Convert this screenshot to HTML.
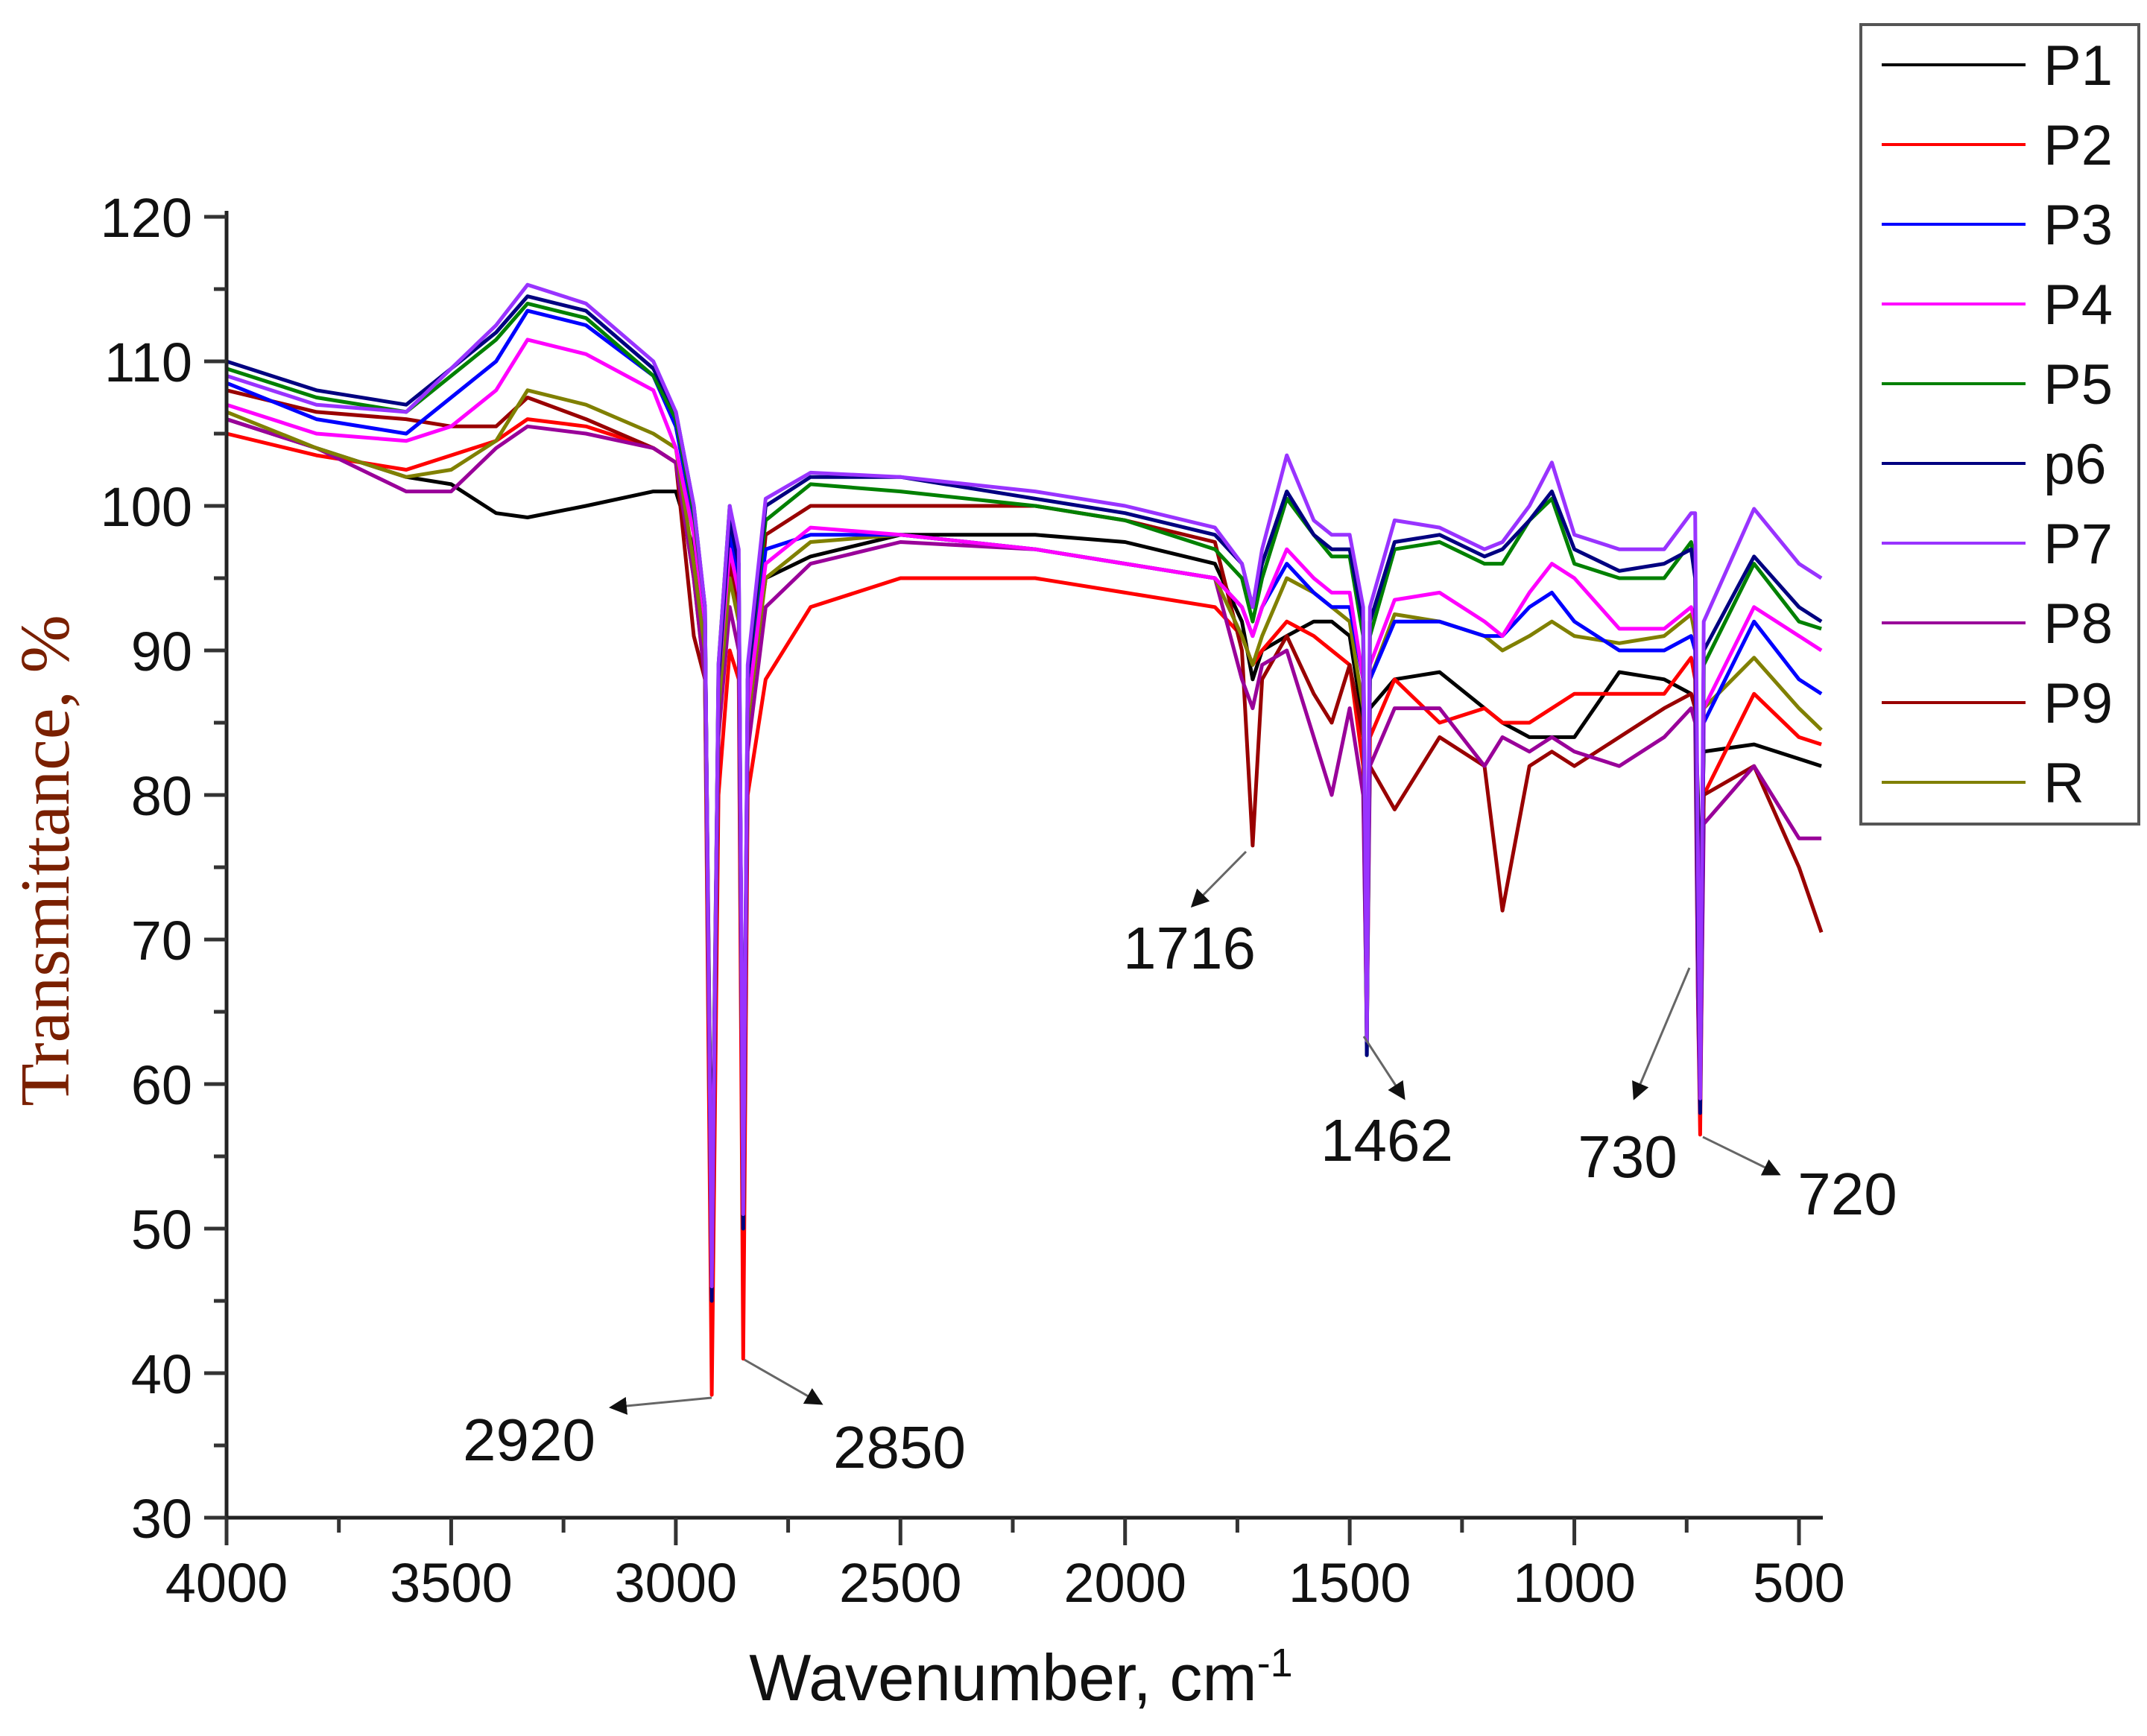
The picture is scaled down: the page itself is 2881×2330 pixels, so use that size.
<!DOCTYPE html>
<html><head><meta charset="utf-8">
<style>
html,body{margin:0;padding:0;background:#fff;}
svg{display:block;}
text{font-family:"Liberation Sans",sans-serif;fill:#111;}
</style></head>
<body>
<svg id="chart" width="2881" height="2330" viewBox="0 0 2881 2330" xmlns="http://www.w3.org/2000/svg">
<g id="series"></g>
<g id="axes"></g>
<text transform="translate(92,1155) rotate(-90)" text-anchor="middle" style="font-family:'Liberation Serif',serif;font-size:94px;fill:#7a2000">Transmittance, %</text>
<text x="1370" y="2282" text-anchor="middle" style="font-size:88px">Wavenumber, cm<tspan dy="-32" font-size="54">-1</tspan></text>
<g id="legend">
<rect x="2497" y="33" width="373" height="1073" fill="#fff" stroke="#555" stroke-width="4"/>
</g>
<g id="annot"></g>
</svg>
<script>
const wavenumbers=[4000,3800,3600,3500,3400,3330,3200,3050,3000,2960,2935,2920,2905,2880,2860,2850,2840,2800,2700,2500,2200,2000,1800,1740,1716,1695,1640,1580,1540,1500,1470,1462,1455,1400,1300,1200,1160,1100,1050,1000,900,800,740,731,725,720,712,600,500,450];
const seriesNames=["P1","P2","P3","P4","P5","p6","P7","P8","P9","R"];
const seriesColors=["#000000","#ff0000","#0000ff","#ff00ff","#008000","#000080","#9933ff","#990099","#990000","#808000"];
const valsP1=[106,104,102,101.5,99.5,99.2,100,101,101,97,92,50,88,97,94,52,86,95,96.5,98,98,97.5,96,92,88,90,91,92,92,91,85,70,86,88,88.5,86,85,84,84,84,88.5,88,87,86,80,72,83,83.5,82.5,82];
const valsP2=[105,103.5,102.5,103.5,104.5,106,105.5,104,103,95,88,38.5,80,90,88,41,80,88,93,95,95,94,93,91,89,90,92,91,90,89,82,63,84,88,85,86,85,85,86,87,87,87,89.5,88,66,56.5,80,87,84,83.5];
const valsP3=[108.5,106,105,107.5,110,113.5,112.5,109,105.5,99,92,48,88,98,95,51,87,97,98,98,97,96,95,93,91,93,96,94,93,93,88,65,88,92,92,91,91,93,94,92,90,90,91,90,75,60,85,92,88,87];
const valsP4=[107,105,104.5,105.5,108,111.5,110.5,108,104,98,92,48,88,97,94,51,86,96,98.5,98,97,96,95,93,91,93,97,95,94,94,88,64,89,93.5,94,92,91,94,96,95,91.5,91.5,93,92,76,61,86,93,91,90];
const valsP5=[109.5,107.5,106.5,109,111.5,114,113,109,106,99.5,93,46,89,100,96,50,88,99,101.5,101,100,99,97,95,92,95,100.5,98,96.5,96.5,91,62,91,97,97.5,96,96,99,100.5,96,95,95,97.5,96,72,59,89,96,92,91.5];
const valsP6=[110,108,107,109.5,112,114.5,113.5,109.5,106.5,100,93,45,88,99,96,50,88,100,102,102,100.5,99.5,98,96,93,96,101,98,97,97,92,62,92,97.5,98,96.5,97,99,101,97,95.5,96,97,95,72,58,90,96.5,93,92];
const valsP7=[109,107,106.5,109.5,112.5,115.3,114,110,106.5,100,93,46,89,100,97,51,89,100.5,102.3,102,101,100,98.5,96,93,97,103.5,99,98,98,93,63,93,99,98.5,97,97.5,100,103,98,97,97,99.5,99.5,75,59,92,99.8,96,95];
const valsP8=[106,104,101,101,104,105.5,105,104,103,95,88,48,84,93,90,50,83,93,96,97.5,97,96,95,88,86,89,90,84,80,86,80,64,82,86,86,82,84,83,84,83,82,84,86,85,66,58,78,82,77,77];
const valsP9=[108,106.5,106,105.5,105.5,107.5,106,104,103,91,88,48,85,96,93,50,85,98,100,100,100,99,97.5,90,76.5,88,91,87,85,89,84,70,82,79,84,82,72,82,83,82,84,86,87,86,70,60,80,82,75,70.5];
const valsR=[106.5,104,102,102.5,104.5,108,107,105,104,96,90,47,86,95,92,51,85,95,97.5,98,97,96,95,91,89,91,95,94,93,92,86,66,88,92.5,92,91,90,91,92,91,90.5,91,92.5,91,72,60,86,89.5,86,84.5];
const allVals=[valsP1,valsP2,valsP3,valsP4,valsP5,valsP6,valsP7,valsP8,valsP9,valsR];
const yTicks=[30,40,50,60,70,80,90,100,110,120];
const xTicks=[4000,3500,3000,2500,2000,1500,1000,500];
const peakLabels=["2920","2850","1716","1462","730","720"];

const NS="http://www.w3.org/2000/svg";
const X0=304,X1=2446,Y0=2037,Y1=291;
function xs(w){return X0+(4000-w)*(2414-304)/3500;}
function ys(v){return Y0-(v-30)*(Y0-Y1)/90;}
function mk(tag,attrs,parent){const e=document.createElementNS(NS,tag);for(const k in attrs)e.setAttribute(k,attrs[k]);parent.appendChild(e);return e;}

const sg=document.getElementById('series');
const order=[0,1,8,7,9,2,3,4,5,6];
order.forEach(i=>{
  const d=allVals[i].map((v,j)=>(j?'L':'M')+xs(wavenumbers[j]).toFixed(1)+','+ys(v).toFixed(1)).join(' ');
  const p=mk('path',{d:d,fill:'none',stroke:seriesColors[i],'stroke-width':5,'stroke-linejoin':'round'},sg);
  
  
});

const ax=document.getElementById('axes');
const yl=mk('line',{x1:X0,y1:Y1-8,x2:X0,y2:Y0+2,stroke:'#222','stroke-width':5},ax);

const xl=mk('line',{x1:X0-30,y1:Y0,x2:X1,y2:Y0,stroke:'#222','stroke-width':5},ax);

for(let v=35;v<120;v+=10){mk('line',{x1:X0-17,y1:ys(v),x2:X0,y2:ys(v),stroke:'#333','stroke-width':5},ax);}
yTicks.forEach(v=>{
  mk('line',{x1:X0-30,y1:ys(v),x2:X0,y2:ys(v),stroke:'#333','stroke-width':5},ax);
  const t=mk('text',{x:258,y:ys(v)+27,'text-anchor':'end','font-size':74},ax);
  t.textContent=v;
  
});
for(let w=3750;w>450;w-=500){mk('line',{x1:xs(w),y1:Y0,x2:xs(w),y2:Y0+20,stroke:'#333','stroke-width':5},ax);}
xTicks.forEach(w=>{
  mk('line',{x1:xs(w),y1:Y0,x2:xs(w),y2:Y0+37,stroke:'#333','stroke-width':5},ax);
  const t=mk('text',{x:xs(w),y:2150,'text-anchor':'middle','font-size':74},ax);
  t.textContent=w;
  
});

const lg=document.getElementById('legend');
seriesNames.forEach((n,i)=>{
  const y=87+i*107;
  const l=mk('line',{x1:2525,y1:y,x2:2718,y2:y,stroke:seriesColors[i],'stroke-width':4},lg);
  
  const t=mk('text',{x:2742,y:y+27,'font-size':76},lg);
  t.textContent=n;
  
});

const an=document.getElementById('annot');
const defs=mk('defs',{},an);
const mkr=mk('marker',{id:'ah',markerWidth:8,markerHeight:8,refX:7,refY:4,orient:'auto',markerUnits:'strokeWidth'},defs);
mk('path',{d:'M0,0 L8,4 L0,8 Z',fill:'#111'},mkr);
const arrows=[[955,1876,820,1889],[999,1825,1102,1884],[1672,1143,1600,1216],[1830,1391,1884,1474],[2267,1299,2193,1474],[2285,1526,2387,1576]];
const labelPos=[[710,1960],[1207,1970],[1596,1300],[1861,1558],[2184,1580],[2479,1630]];
peakLabels.forEach((s,i)=>{
  const a=arrows[i];
  const l=mk('line',{x1:a[0],y1:a[1],x2:a[2],y2:a[3],stroke:'#666','stroke-width':3,'marker-end':'url(#ah)'},an);
  
  const t=mk('text',{x:labelPos[i][0],y:labelPos[i][1],'text-anchor':'middle','font-size':80},an);
  t.textContent=s;
  
});
</script>
</body></html>
